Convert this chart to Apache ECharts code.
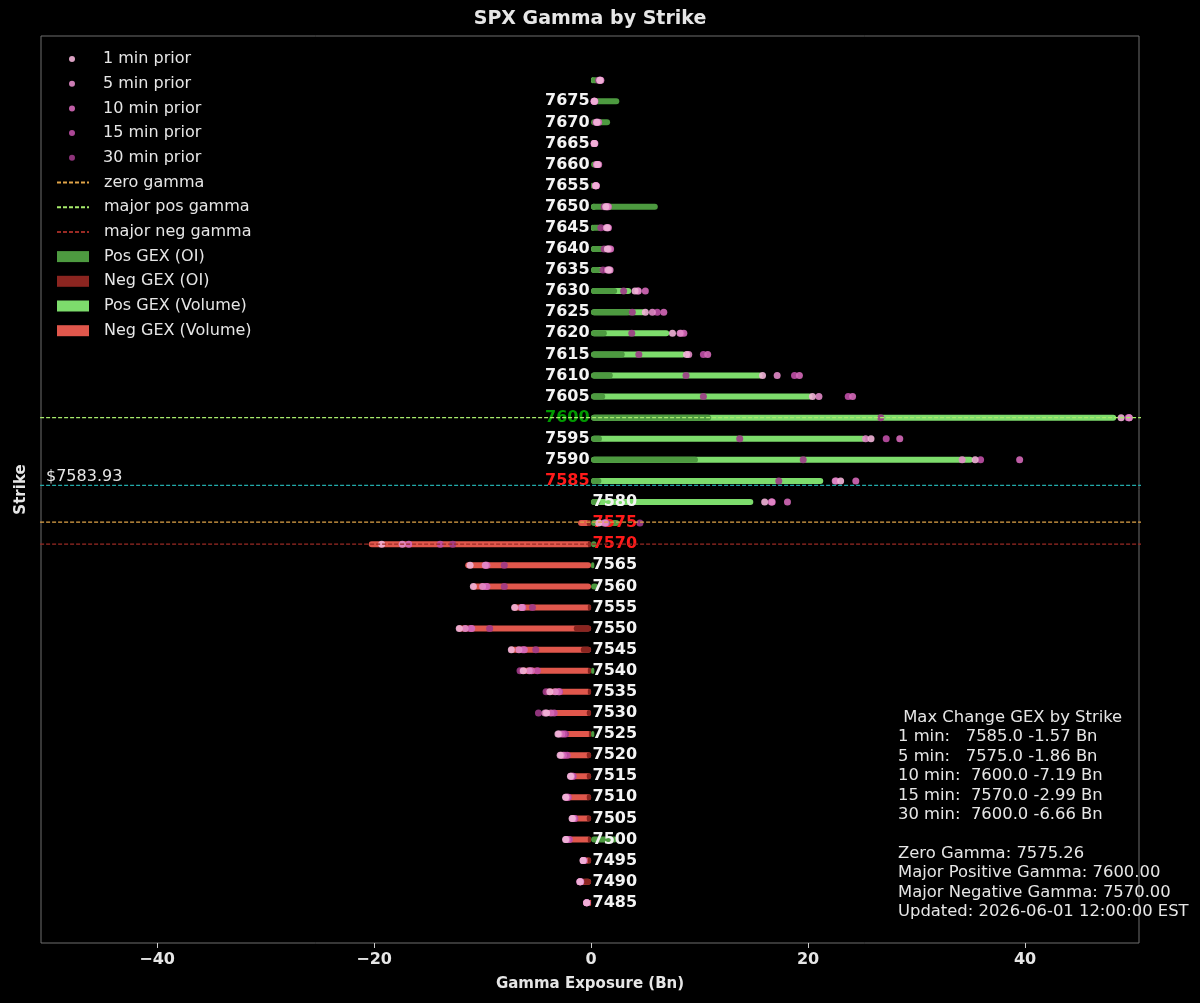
<!DOCTYPE html>
<html>
<head>
<meta charset="utf-8">
<title>SPX Gamma by Strike</title>
<script src="https://cdn.jsdelivr.net/npm/echarts@6/dist/echarts.min.js"></script>
<style>
  html, body { margin: 0; padding: 0; background: #000; }
  #chart { width: 1200px; height: 1003px; }
</style>
</head>
<body>
<div id="chart"></div>
<script>
// strikes, bottom to top
var strikes = [7485, 7490, 7495, 7500, 7505, 7510, 7515, 7520, 7525, 7530,
  7535, 7540, 7545, 7550, 7555, 7560, 7565, 7570, 7575, 7580,
  7585, 7590, 7595, 7600, 7605, 7610, 7615, 7620, 7625, 7630,
  7635, 7640, 7645, 7650, 7655, 7660, 7665, 7670, 7675, 7680];

var posOI = [0, 0, 0, 2.4, 0, 0, 0, 0, 0.3, 0,
  0, 0.3, 0, 0, 0, 0.65, 0.3, 0.5, 2.6, 0.85,
  0.95, 9.85, 1.0, 11.05, 1.3, 2.0, 3.1, 1.45, 3.6, 2.4,
  0.9, 2.0, 1.0, 6.15, 0.2, 1.0, 0.1, 1.75, 2.6, 0.8];
var negOI = [0, -0.75, -0.3, -0.3, -0.4, -0.4, -0.4, -0.4, -0.2, -0.4,
  -0.3, -0.3, -0.95, -1.6, -0.3, 0, 0, -0.3, -0.4, 0,
  0, 0, 0, 0, 0, 0, 0, 0, 0, 0,
  0, 0, 0, 0, 0, 0, 0, 0, 0, 0];
var posVol = [0, 0, 0, 0, 0, 0, 0, 0, 0, 0,
  0, 0, 0, 0, 0, 0, 0, 0, 0, 14.95,
  21.4, 35.2, 25.3, 48.4, 20.4, 15.8, 8.7, 7.2, 5.0, 3.7,
  1.1, 0.5, 0.3, 0.5, 0, 0, 0, 0, 0, 0.3];
var negVol = [-0.15, -1.15, -0.85, -2.4, -1.8, -2.4, -2.0, -3.0, -3.1, -4.45,
  -4.3, -6.7, -7.6, -12.4, -7.3, -11.05, -11.6, -20.5, -1.2, 0,
  0, 0, 0, 0, 0, 0, 0, 0, 0, 0,
  0, 0, 0, 0, 0, 0, 0, 0, 0, 0];

// earlier snapshots
var prior1 = [-0.4, -1.0, -0.75, -2.35, -1.75, -2.35, -1.9, -2.85, -3.05, -4.1,
  -3.8, -6.25, -7.35, -12.15, -7.05, -10.85, -11.15, -19.3, 0.7, 16.0,
  23.0, 35.4, 25.8, 48.85, 20.4, 15.8, 8.8, 7.5, 5.0, 4.05,
  1.6, 1.5, 1.5, 1.35, 0.45, 0.6, 0.3, 0.55, 0.3, 0.8];
var prior5 = [-0.42, -1.05, -0.7, -2.3, -1.7, -2.3, -1.85, -2.75, -2.95, -4.25,
  -3.3, -5.7, -6.65, -11.6, -6.4, -10.0, -9.75, -17.4, 1.3, 16.65,
  22.5, 34.2, 25.3, 49.6, 21.0, 17.15, 9.0, 8.2, 5.65, 4.35,
  1.75, 1.6, 1.4, 1.5, 0.4, 0.5, 0.3, 0.5, 0.3, 0.9];
var prior10 = [-0.4, -1.0, -0.7, -2.2, -1.6, -2.2, -1.8, -2.55, -2.7, -3.7,
  -3.0, -5.5, -6.15, -11.0, -6.3, -9.6, -9.6, -16.8, 1.2, 18.1,
  24.4, 39.5, 28.45, 49.6, 24.1, 19.2, 10.75, 8.55, 6.7, 5.0,
  1.5, 1.8, 1.6, 1.6, 0.5, 0.7, 0.35, 0.7, 0.35, 0.85];
var prior15 = [-0.38, -0.95, -0.65, -2.0, -1.5, -2.1, -1.65, -2.2, -2.5, -3.4,
  -2.9, -4.95, -6.3, -11.1, -6.35, -9.7, -9.7, -13.9, 1.4, 16.7,
  22.6, 35.9, 27.2, 49.5, 23.7, 18.75, 10.35, 8.3, 6.1, 4.3,
  1.7, 1.7, 1.55, 1.45, 0.45, 0.6, 0.3, 0.6, 0.3, 0.8];
var prior30 = [-0.4, -1.0, -0.7, -2.1, -1.55, -2.15, -1.7, -2.4, -2.35, -4.85,
  -4.15, -6.55, -5.1, -9.35, -5.4, -8.0, -8.0, -12.75, 4.5, 16.6,
  17.3, 19.55, 13.7, 26.7, 10.35, 8.75, 4.4, 3.75, 3.8, 3.0,
  1.1, 1.2, 0.9, 1.2, 0.4, 0.5, 0.25, 0.45, 0.25, 0.7];

var spotPrice = 7583.93;
var zeroGamma = 7575.26;
var majorPos = 7600;
var majorNeg = 7570;
var redStrikes = [7585, 7575, 7570];
var xTicks = [-40, -20, 0, 20, 40];

var infoLines = [
  " Max Change GEX by Strike",
  "1 min:   7585.0 -1.57 Bn",
  "5 min:   7575.0 -1.86 Bn",
  "10 min:  7600.0 -7.19 Bn",
  "15 min:  7570.0 -2.99 Bn",
  "30 min:  7600.0 -6.66 Bn",
  "",
  "Zero Gamma: 7575.26",
  "Major Positive Gamma: 7600.00",
  "Major Negative Gamma: 7570.00",
  "Updated: 2026-06-01 12:00:00 EST"
];

var font = "DejaVu Sans";
var textColor = "#e6e6e6";

function pairs(values) {
  return strikes.map(function (s, i) {
    return [values[i], s];
  });
}

function renderBar(params, api) {
  var v = api.value(0);
  if (!v) return null;
  var s = api.value(1);
  var a = api.coord([0, s]);
  var b = api.coord([v, s]);
  var h = 6;
  return {
    type: "rect",
    shape: {
      x: Math.min(a[0], b[0]),
      y: a[1] - h / 2,
      width: Math.abs(b[0] - a[0]),
      height: h,
      r: h / 2
    },
    style: { fill: api.visual("color") }
  };
}

function barSeries(name, values, color, z) {
  return {
    name: name,
    type: "custom",
    renderItem: renderBar,
    data: pairs(values),
    itemStyle: { color: color },
    encode: { x: 0, y: 1 },
    silent: true,
    z: z
  };
}

function dotSeries(name, values, color) {
  return {
    name: name,
    type: "scatter",
    data: pairs(values),
    symbolSize: 7,
    itemStyle: { color: color, opacity: 0.9 },
    silent: true,
    z: 5
  };
}

function hLine(name, y, color) {
  return {
    name: name,
    type: "line",
    data: [[-100, y], [100, y]],
    symbol: "none",
    lineStyle: { color: color, width: 1.2, type: [4, 2] },
    itemStyle: { color: color },
    silent: true,
    z: 6
  };
}

var labelData = strikes
  .filter(function (s) { return s <= 7675; })
  .map(function (s) {
    var color = "#f4f4f4";
    if (s === majorPos) color = "#009a00";
    if (redStrikes.indexOf(s) >= 0) color = "#ff1a1a";
    var above = s > spotPrice;
    return {
      value: [0, s],
      label: {
        position: above ? "left" : "right",
        distance: 1,
        color: color
      }
    };
  });

var priorNames = ["1 min prior", "5 min prior", "10 min prior", "15 min prior", "30 min prior"];
var otherNames = ["zero gamma", "major pos gamma", "major neg gamma",
  "Pos GEX (OI)", "Neg GEX (OI)", "Pos GEX (Volume)", "Neg GEX (Volume)"];

var legendBase = {
  orient: "vertical",
  padding: 0,
  itemGap: 6.7,
  itemWidth: 32,
  selectedMode: false,
  textStyle: {
    color: textColor,
    fontFamily: font,
    fontSize: 16,
    lineHeight: 18,
    padding: [0, 0, 0, 10]
  }
};

var option = {
  backgroundColor: "#000",
  animation: false,
  title: {
    text: "SPX Gamma by Strike",
    left: 590,
    textAlign: "center",
    top: 10,
    padding: 0,
    textStyle: { color: textColor, fontFamily: font, fontSize: 19, fontWeight: "bold" }
  },
  legend: [
    Object.assign({}, legendBase, {
      left: 69,
      top: 50,
      itemHeight: 6,
      data: priorNames.map(function (n) { return { name: n, icon: "circle" }; })
    }),
    Object.assign({}, legendBase, {
      left: 56,
      top: 50 + 5 * 24.7,
      itemHeight: 11,
      data: otherNames.map(function (n, i) {
        return i < 3
          ? { name: n, itemStyle: { opacity: 0 } }
          : { name: n, icon: "rect" };
      })
    })
  ],
  grid: {
    left: 41,
    right: 61,
    top: 36,
    bottom: 60,
    show: true,
    borderColor: "#6e6e6e",
    borderWidth: 1
  },
  xAxis: {
    type: "value",
    min: -50.7,
    max: 50.5,
    name: "Gamma Exposure (Bn)",
    nameLocation: "middle",
    nameGap: 34,
    nameTextStyle: { color: textColor, fontFamily: font, fontSize: 15, fontWeight: "bold" },
    axisLine: { show: false },
    axisTick: { show: true, length: 5, customValues: xTicks, lineStyle: { color: "#cccccc" } },
    axisLabel: {
      customValues: xTicks,
      margin: 9,
      color: textColor,
      fontFamily: font,
      fontSize: 16,
      fontWeight: "bold",
      formatter: function (v) { return String(v).replace("-", "\u2212"); }
    },
    splitLine: { show: false }
  },
  yAxis: {
    type: "value",
    min: 7475.47,
    max: 7690.47,
    name: "Strike",
    nameLocation: "middle",
    nameRotate: 90,
    nameGap: 12,
    nameTextStyle: { color: textColor, fontFamily: font, fontSize: 15, fontWeight: "bold" },
    axisLine: { show: false },
    axisTick: { show: false },
    axisLabel: { show: false },
    splitLine: { show: false }
  },
  graphic: [
    {
      type: "text",
      left: 46,
      top: 469,
      style: { text: "$" + spotPrice.toFixed(2), fill: textColor, font: "16px " + font }
    },
    {
      type: "text",
      left: 898,
      top: 708,
      style: {
        text: infoLines.join("\n"),
        fill: textColor,
        font: "16.4px " + font,
        lineHeight: 19.4
      }
    }
  ],
  series: [
    barSeries("Pos GEX (Volume)", posVol, "#7ddc6c", 2),
    barSeries("Neg GEX (Volume)", negVol, "#e0574c", 2),
    barSeries("Pos GEX (OI)", posOI, "#4d9a40", 3),
    barSeries("Neg GEX (OI)", negOI, "#8b2520", 3),
    {
      name: "strike labels",
      type: "scatter",
      data: labelData,
      symbolSize: 1,
      itemStyle: { color: "transparent" },
      label: {
        show: true,
        formatter: function (p) { return p.value[1]; },
        fontFamily: font,
        fontSize: 16,
        fontWeight: "bold",
        opacity: 1,
        textBorderWidth: 0
      },
      silent: true,
      z: 4
    },
    dotSeries("30 min prior", prior30, "#9e3a88"),
    dotSeries("15 min prior", prior15, "#bf4fa6"),
    dotSeries("10 min prior", prior10, "#d468b8"),
    dotSeries("5 min prior", prior5, "#e289c8"),
    dotSeries("1 min prior", prior1, "#f2b2d8"),
    hLine("zero gamma", zeroGamma, "#e0a448"),
    hLine("major pos gamma", majorPos, "#a8ec6c"),
    hLine("major neg gamma", majorNeg, "#9a2a24"),
    hLine("spot", spotPrice, "#22aaaa")
  ]
};

var chart = echarts.init(document.getElementById("chart"), null, { renderer: "canvas" });
chart.setOption(option);
</script>
</body>
</html>
